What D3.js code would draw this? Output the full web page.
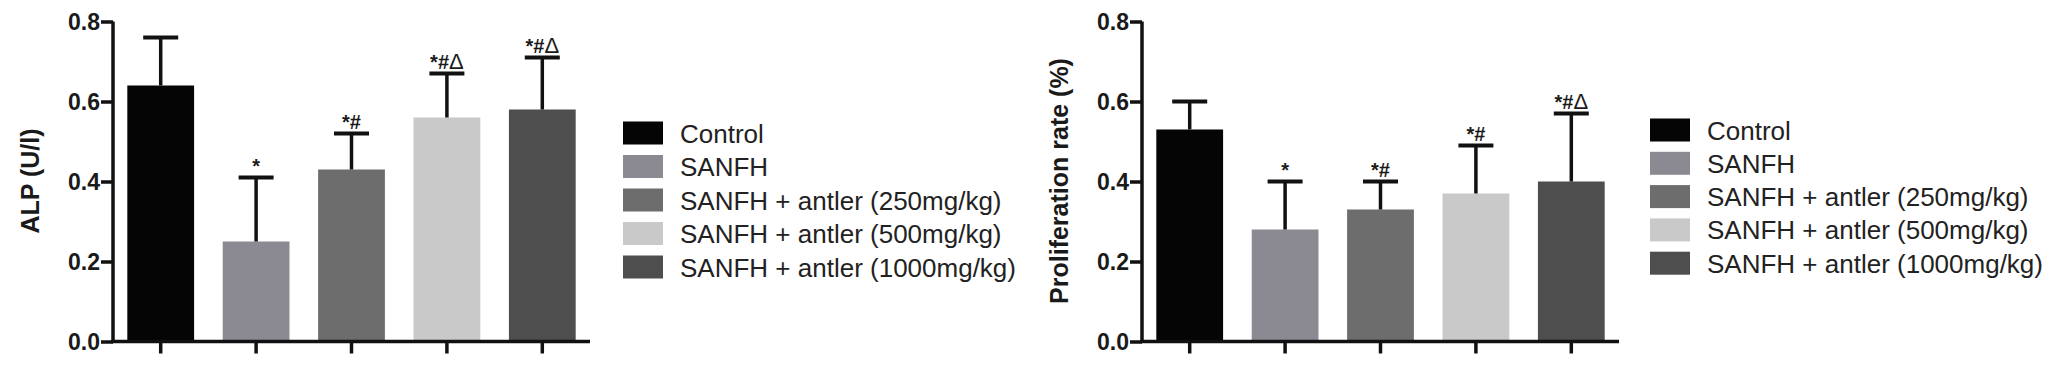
<!DOCTYPE html>
<html>
<head>
<meta charset="utf-8">
<script src="https://cdn.jsdelivr.net/npm/d3@7"></script>
<style>
  body { margin: 0; background: #fff; }
  svg text { font-family: "Liberation Sans", Arial, sans-serif; }
</style>
</head>
<body>
<div id="chart"></div>
<script>
// groups shared by both panels
var groups = ["Control", "SANFH", "SANFH + antler (250mg/kg)", "SANFH + antler (500mg/kg)", "SANFH + antler (1000mg/kg)"];
var groupColors = ["#050505", "#8b8a93", "#6d6d6d", "#c9c9c9", "#4e4e4e"];

// panel A: ALP
var alpMean = [0.64, 0.25, 0.43, 0.56, 0.58];
var alpSD = [0.12, 0.16, 0.09, 0.11, 0.13];
var alpSig = ["", "*", "*#", "*#\u0394", "*#\u0394"];

// panel B: proliferation
var prolMean = [0.53, 0.28, 0.33, 0.37, 0.40];
var prolSD = [0.07, 0.12, 0.07, 0.12, 0.17];
var prolSig = ["", "*", "*#", "*#", "*#\u0394"];

var yTicks = [0, 0.2, 0.4, 0.6, 0.8];

var width = 2061, height = 372;

var svg = d3.select("#chart")
    .append("svg")
    .attr("width", width)
    .attr("height", height);

function drawPanel(opts) {
    var x = d3.scaleBand()
        .domain(groups)
        .range([opts.left, opts.left + 477])
        .paddingInner(0.3)
        .paddingOuter(0.15);

    var y = d3.scaleLinear()
        .domain([0, 0.8])
        .range([341.5, 21.5]);

    var g = svg.append("g");

    // bars
    g.selectAll("rect.bar")
        .data(groups)
        .enter().append("rect")
        .attr("class", "bar")
        .attr("x", function (d) { return x(d); })
        .attr("y", function (d, i) { return y(opts.mean[i]); })
        .attr("width", x.bandwidth())
        .attr("height", function (d, i) { return y(0) - y(opts.mean[i]); })
        .attr("fill", function (d, i) { return groupColors[i]; });

    // error bars (upper only)
    var err = g.selectAll("g.err")
        .data(groups)
        .enter().append("g")
        .attr("class", "err");

    err.append("line")
        .attr("x1", function (d) { return x(d) + x.bandwidth() / 2; })
        .attr("x2", function (d) { return x(d) + x.bandwidth() / 2; })
        .attr("y1", function (d, i) { return y(opts.mean[i]); })
        .attr("y2", function (d, i) { return y(opts.mean[i] + opts.sd[i]); })
        .attr("stroke", "#111")
        .attr("stroke-width", 3.5);

    err.append("line")
        .attr("x1", function (d) { return x(d) + x.bandwidth() / 2 - 17.5; })
        .attr("x2", function (d) { return x(d) + x.bandwidth() / 2 + 17.5; })
        .attr("y1", function (d, i) { return y(opts.mean[i] + opts.sd[i]); })
        .attr("y2", function (d, i) { return y(opts.mean[i] + opts.sd[i]); })
        .attr("stroke", "#111")
        .attr("stroke-width", 4);

    // significance marks: bold "*#", thin triangle
    var sig = g.selectAll("text.sig")
        .data(groups)
        .enter().append("text")
        .attr("class", "sig")
        .attr("x", function (d) { return x(d) + x.bandwidth() / 2; })
        .attr("y", function (d, i) { return y(opts.mean[i] + opts.sd[i]) - 5; })
        .attr("text-anchor", "middle")
        .attr("font-size", "20px")
        .attr("fill", "#1a1a1a");
    sig.append("tspan")
        .attr("font-weight", "bold")
        .text(function (d, i) { return opts.sig[i].replace("\u0394", ""); });
    sig.append("tspan")
        .attr("font-size", "22px")
        .text(function (d, i) { return opts.sig[i].indexOf("\u0394") >= 0 ? "\u0394" : ""; });

    // y axis
    var yAxis = g.append("g")
        .attr("transform", "translate(" + opts.left + ",0)")
        .call(d3.axisLeft(y).tickValues(yTicks).tickFormat(d3.format(".1f")).tickSize(12).tickPadding(1));
    yAxis.select(".domain").attr("stroke", "#111").attr("stroke-width", 3.5).attr("d", "M0," + y(0.8) + "V" + y(0));
    yAxis.selectAll(".tick line").attr("stroke", "#111").attr("stroke-width", 3.5);
    yAxis.selectAll(".tick text")
        .attr("font-size", "23px")
        .attr("font-weight", "bold")
        .attr("fill", "#1a1a1a")
        .attr("dy", "0.36em");

    // x axis (no labels)
    var xAxis = g.append("g")
        .attr("transform", "translate(0," + y(0) + ")")
        .call(d3.axisBottom(x).tickSize(12).tickFormat(""));
    xAxis.select(".domain").attr("stroke", "#111").attr("stroke-width", 3.5)
        .attr("d", "M" + (opts.left - 1.5) + ",0H" + (opts.left + 477));
    xAxis.selectAll(".tick line").attr("stroke", "#111").attr("stroke-width", 3.5);

    // y title
    g.append("text")
        .attr("transform", "translate(" + opts.titleX + "," + 181 + ") rotate(-90)")
        .attr("text-anchor", "middle")
        .attr("font-size", "25px")
        .attr("font-weight", "bold")
        .attr("fill", "#1a1a1a")
        .text(opts.title);

    // legend
    var leg = g.selectAll("g.leg")
        .data(groups)
        .enter().append("g")
        .attr("class", "leg")
        .attr("transform", function (d, i) { return "translate(" + opts.legX + "," + (opts.legY + i * opts.legStep) + ")"; });

    leg.append("rect")
        .attr("width", 40)
        .attr("height", 23)
        .attr("fill", function (d, i) { return groupColors[i]; });

    leg.append("text")
        .attr("x", 57)
        .attr("y", 21)
        .attr("font-size", "26px")
        .attr("fill", "#222")
        .text(function (d) { return d; });
}

drawPanel({ left: 113, mean: alpMean, sd: alpSD, sig: alpSig, title: "ALP (U/l)", titleX: 39, legX: 623, legY: 121.5, legStep: 33.5 });
drawPanel({ left: 1142, mean: prolMean, sd: prolSD, sig: prolSig, title: "Proliferation rate (%)", titleX: 1068, legX: 1650, legY: 118.5, legStep: 33.3 });
</script>
</body>
</html>
